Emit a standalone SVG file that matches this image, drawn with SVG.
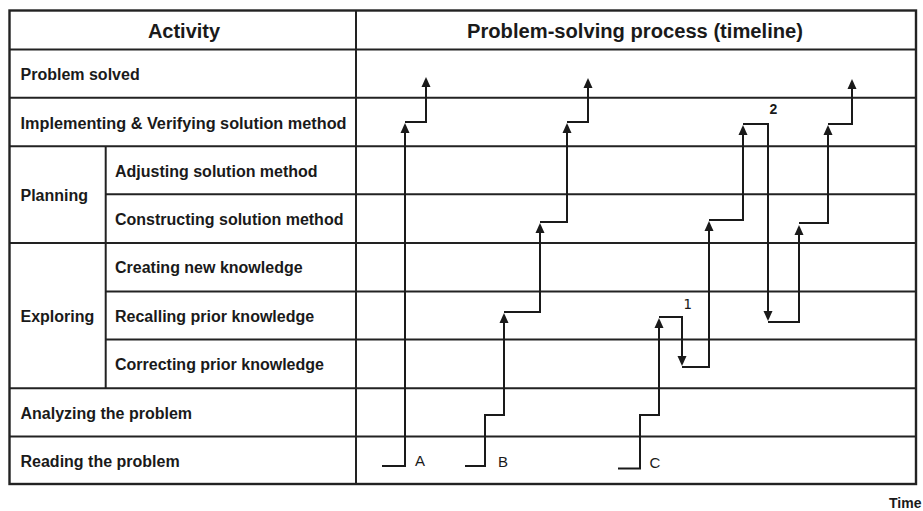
<svg xmlns="http://www.w3.org/2000/svg" width="923" height="511" viewBox="0 0 923 511">
  <style>
    .grid { stroke: #222; stroke-width: 2; fill: none; }
    .border { stroke: #222; stroke-width: 2.4; fill: none; }
    .lbl { font-family: "Liberation Sans", Arial, sans-serif; font-weight: bold; font-size: 16px; fill: #1a1a1a; }
    .head { font-family: "Liberation Sans", Arial, sans-serif; font-weight: bold; font-size: 20px; fill: #1a1a1a; text-anchor: middle; }
    .tag { font-family: "Liberation Sans", Arial, sans-serif; font-size: 15px; fill: #1a1a1a; text-anchor: middle; }
    .step { stroke: #1a1a1a; stroke-width: 2; fill: none; marker-end: url(#head); }
  </style>
  <defs>
    <marker id="head" markerUnits="userSpaceOnUse" markerWidth="10" markerHeight="10" refX="7" refY="5" orient="auto">
      <path d="M0,0.5 L10,5 L0,9.5 Z" fill="#1a1a1a"/>
    </marker>
  </defs>

  <rect width="923" height="511" fill="#fff"/>

  <!-- table frame and rule lines -->
  <g id="table">
    <rect class="border" x="9.5" y="10.5" width="906.5" height="473.5"/>
    <line class="grid" x1="356" y1="10.5" x2="356" y2="484"/>
    <line class="grid" x1="105.7" y1="146.5" x2="105.7" y2="388"/>
    <line class="grid" x1="9.5" y1="49.5" x2="916" y2="49.5"/>
    <line class="grid" x1="9.5" y1="97.8" x2="916" y2="97.8"/>
    <line class="grid" x1="9.5" y1="146.3" x2="916" y2="146.3"/>
    <line class="grid" x1="105.7" y1="194.3" x2="916" y2="194.3"/>
    <line class="grid" x1="9.5" y1="243" x2="916" y2="243"/>
    <line class="grid" x1="105.7" y1="291.6" x2="916" y2="291.6"/>
    <line class="grid" x1="105.7" y1="339.4" x2="916" y2="339.4"/>
    <line class="grid" x1="9.5" y1="388.2" x2="916" y2="388.2"/>
    <line class="grid" x1="9.5" y1="436.6" x2="916" y2="436.6"/>
  </g>

  <!-- column headings -->
  <g id="head-activity"><text class="head" x="184" y="37.5">Activity</text></g>
  <g id="head-timeline"><text class="head" x="635" y="38" textLength="336" lengthAdjust="spacingAndGlyphs">Problem-solving process (timeline)</text></g>

  <!-- activity rows -->
  <g id="row-solved"><text class="lbl" x="20.5" y="80">Problem solved</text></g>
  <g id="row-implementing"><text class="lbl" x="20.5" y="128.5" textLength="326" lengthAdjust="spacingAndGlyphs">Implementing &amp; Verifying solution method</text></g>
  <g id="grp-planning"><text class="lbl" x="20.5" y="201">Planning</text></g>
  <g id="row-adjusting"><text class="lbl" x="115" y="176.5">Adjusting solution method</text></g>
  <g id="row-constructing"><text class="lbl" x="115" y="224.5">Constructing solution method</text></g>
  <g id="grp-exploring"><text class="lbl" x="20.5" y="321.5">Exploring</text></g>
  <g id="row-creating"><text class="lbl" x="115" y="273">Creating new knowledge</text></g>
  <g id="row-recalling"><text class="lbl" x="115" y="321.5">Recalling prior knowledge</text></g>
  <g id="row-correcting"><text class="lbl" x="115" y="370">Correcting prior knowledge</text></g>
  <g id="row-analyzing"><text class="lbl" x="20.5" y="418.5">Analyzing the problem</text></g>
  <g id="row-reading"><text class="lbl" x="20.5" y="466.5">Reading the problem</text></g>

  <!-- solver paths: each step ends in an arrowhead -->
  <g id="connectors">
    <!-- A -->
    <path class="step" d="M382,466 H405 V126"/>
    <path class="step" d="M405,122 H426 V80"/>
    <!-- B -->
    <path class="step" d="M465,466 H485 V415 H504 V316"/>
    <path class="step" d="M504,312 H540 V226"/>
    <path class="step" d="M540,222 H567 V126"/>
    <path class="step" d="M567,122 H588 V81"/>
    <!-- C -->
    <path class="step" d="M618,468.5 H640 V415 H659 V321"/>
    <path class="step" d="M659,317 H682 V363"/>
    <path class="step" d="M682,367 H709 V224"/>
    <path class="step" d="M709,220 H743 V128"/>
    <path class="step" d="M743,124 H768 V318"/>
    <path class="step" d="M768,322 H799 V228"/>
    <path class="step" d="M799,223 H828 V128"/>
    <path class="step" d="M828,124 H852 V82"/>
  </g>

  <!-- path markers -->
  <g id="tags">
    <text class="tag" x="420" y="466">A</text>
    <text class="tag" x="503" y="467">B</text>
    <text class="tag" x="655" y="468">C</text>
    <text class="tag" x="687.5" y="309" style="font-family: 'DejaVu Sans Mono', 'Liberation Mono', monospace; font-size: 14px;">1</text>
    <text class="tag" x="773.5" y="114" style="font-weight: bold; font-size: 14px;">2</text>
  </g>

  <g id="axis-time"><text class="lbl" x="889" y="508" style="font-size: 14px;">Time</text></g>
</svg>
